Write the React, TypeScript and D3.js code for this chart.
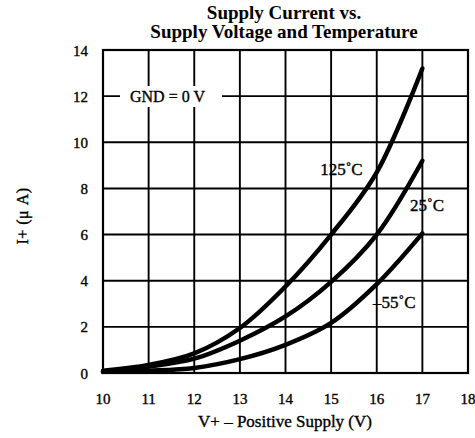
import React from 'react';
import * as d3 from 'd3';

// supply voltage (V)
const voltages = [10, 11, 12, 13, 14, 15, 16, 17];
// supply current (uA) per temperature
const current125 = [0.1, 0.35, 0.85, 1.95, 3.75, 6.0, 8.7, 13.2];
const current25 = [0.05, 0.28, 0.62, 1.4, 2.45, 3.95, 6.0, 9.2];
const currentM55 = [0.05, 0.1, 0.22, 0.6, 1.22, 2.17, 3.85, 6.05];
const seriesLabels = ['125˚C', '25˚C', '–55˚C'];

const xTicks = [10, 11, 12, 13, 14, 15, 16, 17, 18];
const yTicks = [0, 2, 4, 6, 8, 10, 12, 14];

const W = 475;
const H = 438;
const FONT = '"Liberation Serif", "Times New Roman", serif';

export default function App() {
  const x = d3.scaleLinear().domain([10, 18]).range([103, 468]);
  const y = d3.scaleLinear().domain([0, 14]).range([373, 50]);

  const line = d3
    .line<number>()
    .x((_, i) => x(voltages[i]))
    .y((d) => y(d))
    .curve(d3.curveCatmullRom.alpha(0.5));

  const series = [current125, current25, currentM55];
  // label anchor points in data units (left edge, baseline)
  const labelPos = [
    { v: 14.76, c: 8.58 },
    { v: 16.73, c: 7.02 },
    { v: 15.92, c: 2.82 },
  ];

  // heavy print look for the plain text
  const ink = { fill: '#000', stroke: '#000', strokeWidth: 0.35 };

  return (
    <svg
      width={W}
      height={H}
      style={{ position: 'absolute', left: 0, top: 0, background: '#fff' }}
      fontFamily={FONT}
    >
      <rect width={W} height={H} fill="#fff" />

      {/* title */}
      <text x={284} y={19} textAnchor="middle" fontWeight="bold" fontSize={19}>
        Supply Current vs.
      </text>
      <text x={284} y={38} textAnchor="middle" fontWeight="bold" fontSize={19}>
        Supply Voltage and Temperature
      </text>

      {/* grid */}
      {xTicks.map((t) => (
        <line key={'gx' + t} x1={x(t)} x2={x(t)} y1={y(0)} y2={y(14)} stroke="#000" strokeWidth={1.9} />
      ))}
      {yTicks.map((t) => (
        <line key={'gy' + t} x1={x(10)} x2={x(18)} y1={y(t)} y2={y(t)} stroke="#000" strokeWidth={1.9} />
      ))}
      <rect x={x(10)} y={y(14)} width={x(18) - x(10)} height={y(0) - y(14)} fill="none" stroke="#000" strokeWidth={2.2} />

      {/* GND note */}
      <rect x={120} y={86} width={102} height={21} fill="#fff" />
      <text x={130} y={102} fontSize={16} {...ink}>
        GND = 0 V
      </text>

      {/* tick labels */}
      {yTicks.map((t) => (
        <text key={'ty' + t} x={88} y={y(t) + 5.5} textAnchor="end" fontSize={15} {...ink}>
          {t}
        </text>
      ))}
      {xTicks.map((t) => (
        <text key={'tx' + t} x={x(t)} y={404} textAnchor="middle" fontSize={15} {...ink}>
          {t}
        </text>
      ))}

      {/* axis titles */}
      <text x={285} y={427} textAnchor="middle" fontSize={17} {...ink}>
        V+ – Positive Supply (V)
      </text>
      <text transform={`translate(28,216) rotate(-90)`} textAnchor="middle" fontSize={16} letterSpacing={0.5} {...ink}>
        I+ (μ A)
      </text>

      {/* curves */}
      {series.map((s, i) => (
        <path key={'s' + i} d={line(s) || ''} fill="none" stroke="#000" strokeWidth={4.5} strokeLinecap="round" />
      ))}
      {seriesLabels.map((l, i) => (
        <text key={'l' + i} x={x(labelPos[i].v)} y={y(labelPos[i].c)} fontSize={17} {...ink}>
          {l}
        </text>
      ))}
    </svg>
  );
}
